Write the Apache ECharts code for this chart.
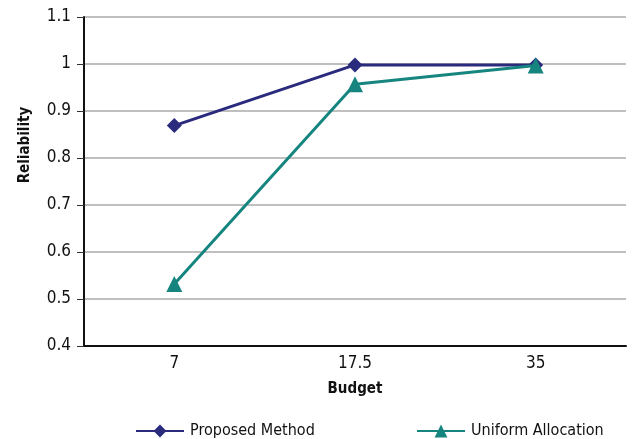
<!DOCTYPE html>
<html><head><meta charset="utf-8">
<script src="https://cdn.jsdelivr.net/npm/echarts@6/dist/echarts.min.js"></script>
<style>html,body{margin:0;padding:0;background:#fff}#c{width:637px;height:439px}</style>
</head><body><div id="c"></div>
<script>
const categories = ['7', '17.5', '35'];
const proposed = [0.869, 0.998, 0.998];
const uniform = [0.532, 0.957, 0.997];
const yTicks = [0.4, 0.5, 0.6, 0.7, 0.8, 0.9, 1, 1.1];
const FONT = '"Liberation Sans Narrow", "DejaVu Sans Condensed", sans-serif';
const NAVY = '#2B2B7E', TEAL = '#16857F';
const chart = echarts.init(document.getElementById('c'));
const legendCommon = {
  top: 423, padding: 0, itemGap: 0, itemWidth: 48, itemHeight: 16,
  textStyle: {fontFamily: FONT, fontSize: 16, color: '#111', padding: [0, 0, 0, 1]}
};
chart.setOption({
  animation: false,
  textStyle: {fontFamily: FONT},
  grid: {left: 84, right: 11, top: 17, bottom: 93, containLabel: false},
  xAxis: {
    type: 'category', data: categories, boundaryGap: true,
    name: 'Budget', nameLocation: 'middle', nameGap: 36,
    nameTextStyle: {fontFamily: FONT, fontWeight: 'bold', fontSize: 15, color: '#111'},
    axisLine: {lineStyle: {color: '#111', width: 2}},
    axisTick: {inside: true, length: 6, lineStyle: {color: '#111', width: 1}},
    axisLabel: {fontFamily: FONT, fontSize: 17, color: '#111', margin: 9}
  },
  yAxis: {
    type: 'value', min: 0.4, max: 1.1, interval: 0.1,
    name: 'Reliability', nameLocation: 'middle', nameGap: 51, nameRotate: 90,
    nameTextStyle: {fontFamily: FONT, fontWeight: 'bold', fontSize: 15, color: '#111', padding: [0, 0, 0, 73]},
    axisLine: {show: true, lineStyle: {color: '#111', width: 2}},
    axisTick: {show: true, length: 7, lineStyle: {color: '#333'}},
    axisLabel: {fontFamily: FONT, fontSize: 17, color: '#111', margin: 13,
      formatter: v => { const t = yTicks.find(x => Math.abs(x - v) < 1e-6); return t === undefined ? '' : String(t); }},
    splitLine: {lineStyle: {color: '#aaa', width: 1.5}}
  },
  legend: [
    Object.assign({left: 135, data: ['Proposed Method']}, legendCommon),
    Object.assign({left: 416, data: ['Uniform Allocation']}, legendCommon)
  ],
  series: [
    {name: 'Proposed Method', type: 'line', data: proposed, symbol: 'diamond', symbolSize: 15,
     lineStyle: {color: NAVY, width: 3}, itemStyle: {color: NAVY}, z: 3},
    {name: 'Uniform Allocation', type: 'line', data: uniform, symbol: 'triangle', symbolSize: 16,
     lineStyle: {color: TEAL, width: 3}, itemStyle: {color: TEAL}, z: 4}
  ]
});
</script></body></html>
